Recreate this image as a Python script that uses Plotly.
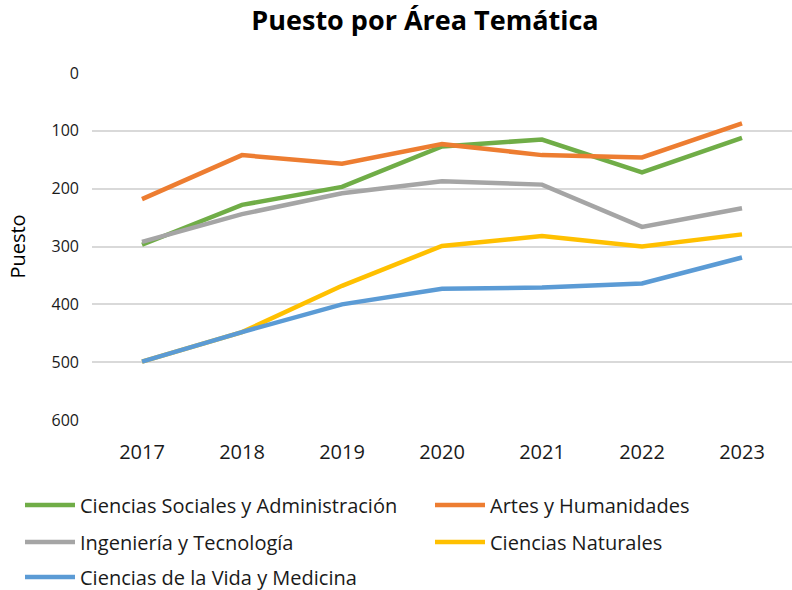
import plotly.graph_objects as go

years = ["2017", "2018", "2019", "2020", "2021", "2022", "2023"]
sociales = [297, 228, 197, 127, 115, 172, 112]
artes = [218, 142, 157, 123, 142, 146, 87]
ingenieria = [292, 244, 208, 187, 193, 266, 234]
naturales = [499, 448, 368, 299, 282, 300, 279]
vida = [499, 448, 400, 373, 371, 364, 319]

series = [
    ("Ciencias Sociales y Administración", sociales, "#70AD47", "legend"),
    ("Artes y Humanidades", artes, "#ED7D31", "legend2"),
    ("Ingeniería y Tecnología", ingenieria, "#A5A5A5", "legend3"),
    ("Ciencias Naturales", naturales, "#FFC000", "legend4"),
    ("Ciencias de la Vida y Medicina", vida, "#5B9BD5", "legend5"),
]

fig = go.Figure()
for name, vals, color, lg in series:
    fig.add_trace(go.Scatter(x=years, y=vals, name=name, mode="lines", legend=lg,
                             line=dict(color=color, width=4.5)))

font = "'Open Sans', sans-serif"
W, H = 792, 590
txt = "#1a1a1a"


def leg(xleft, ycenter):
    return dict(orientation="h", xref="container", yref="container",
                x=xleft / W, xanchor="left", y=1 - ycenter / H, yanchor="middle",
                itemwidth=50,
                font=dict(family=font, size=20, color=txt),
                bgcolor="rgba(0,0,0,0)")


fig.update_layout(
    width=W, height=H,
    paper_bgcolor="white", plot_bgcolor="white",
    margin=dict(l=92, r=0, t=73, b=170),
    title=dict(text="<b>Puesto por Área Temática</b>", xref="container", x=425 / W,
               xanchor="center", yref="container", y=1 - 21 / H, yanchor="middle",
               font=dict(family=font, size=27, color="black")),
    font=dict(family=font, color=txt),
    xaxis=dict(type="category", range=[-0.5, 6.5], showgrid=False, zeroline=False,
               showline=False, ticks="", ticklabelstandoff=18,
               tickfont=dict(size=20, color=txt)),
    yaxis=dict(range=[600, 0], dtick=100, showgrid=True, gridcolor="#D9D9D9",
               gridwidth=1.5, zeroline=False, showline=False, ticks="",
               ticklabelstandoff=12,
               tickfont=dict(size=16, color=txt),
               title=dict(text="Puesto", font=dict(size=20, color="black"), standoff=20)),
    legend=leg(20, 505),
    legend2=leg(430, 505),
    legend3=leg(20, 542),
    legend4=leg(430, 542),
    legend5=leg(20, 577),
    showlegend=True,
)

fig.write_html("out.html", config={"displayModeBar": False},
               post_script="document.body.style.margin='0';")
